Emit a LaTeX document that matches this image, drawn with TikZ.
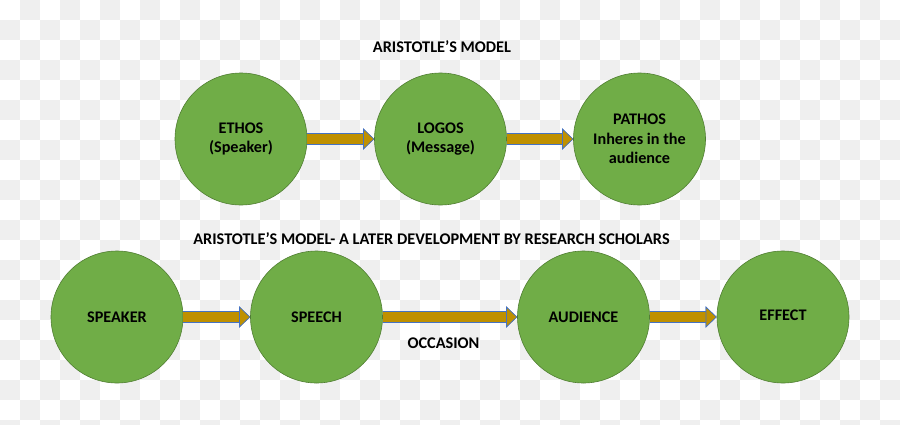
\documentclass[tikz,border=0pt]{standalone}
\usepackage{fontspec}
\setmainfont{Carlito}
\usepackage{tikz}
\usetikzlibrary{arrows.meta}

\definecolor{leaf}{HTML}{70AD47}
\definecolor{leafline}{HTML}{507E32}
\definecolor{gold}{HTML}{BF9000}
\definecolor{goldline}{HTML}{4472C4}
\definecolor{checker}{HTML}{EFEFEF}

\begin{document}
\begin{tikzpicture}[x=1pt, y=-1pt]
\tikzstyle{stage} = [circle, fill = leaf, draw = leafline, line width = 0.6pt,
  minimum size = 132pt, inner sep = 0pt, align = center,
  font = \fontsize{16.2}{19.5}\selectfont\bfseries]
\tikzstyle{flow} = [line width = 10.6pt, draw = gold,
  -{Triangle[length = 11pt, width = 21pt, fill = gold, color = goldline, line width = 0.6pt]},
  preaction = {draw = goldline, line width = 11.8pt,
  -{Triangle[length = 11pt, width = 21pt, fill = gold, color = goldline, line width = 0.6pt]}}]
\tikzstyle{heading} = [font = \fontsize{16.3}{19.5}\selectfont\bfseries]

\useasboundingbox (0, 0) rectangle (900, 424);
% -----------------------------------
% background
\begin{scope}
\clip (0, 0) rectangle (900, 424);
\fill[white] (0, 0) rectangle (900, 424);
\foreach \i in {0, ..., 44}
  \foreach \j in {0, ..., 21} {
    \pgfmathparse{int(mod(\i + \j, 2))}
    \ifnum\pgfmathresult=1
      \fill[checker] (\i*20, \j*20) rectangle ++(20, 20);
    \fi
  }
\end{scope}

% -----------------------------------
% Aristotle's model
\node[heading] (title1) at (442, 47) {ARISTOTLE’S MODEL};
\node[stage] (ethos) at (241, 139) {ETHOS\\(Speaker)};
\node[stage] (logos) at (440.5, 139) {LOGOS\\(Message)};
\node[stage] (pathos) at (639.5, 139) {PATHOS\\Inheres in the\\audience};

\draw[flow] (ethos.east)--(logos.west);
\draw[flow] (logos.east)--(pathos.west);

% -----------------------------------
% Later development
\node[heading] (title2) at (431.5, 238.5) {ARISTOTLE’S MODEL- A LATER DEVELOPMENT BY RESEARCH SCHOLARS};
\node[stage] (speaker) at (117, 317) {SPEAKER};
\node[stage] (speech) at (316.5, 317) {SPEECH};
\node[stage] (audience) at (583.5, 317) {AUDIENCE};
\node[stage] (effect) at (783, 317) {\raisebox{3.5pt}{EFFECT}};
\node[heading] (occasion) at (443.5, 343) {OCCASION};

\draw[flow] (speaker.east)--(speech.west);
\draw[flow] (speech.east)--(audience.west);
\draw[flow] (audience.east)--(effect.west);
% -----------------------------------
\end{tikzpicture}
\end{document}
